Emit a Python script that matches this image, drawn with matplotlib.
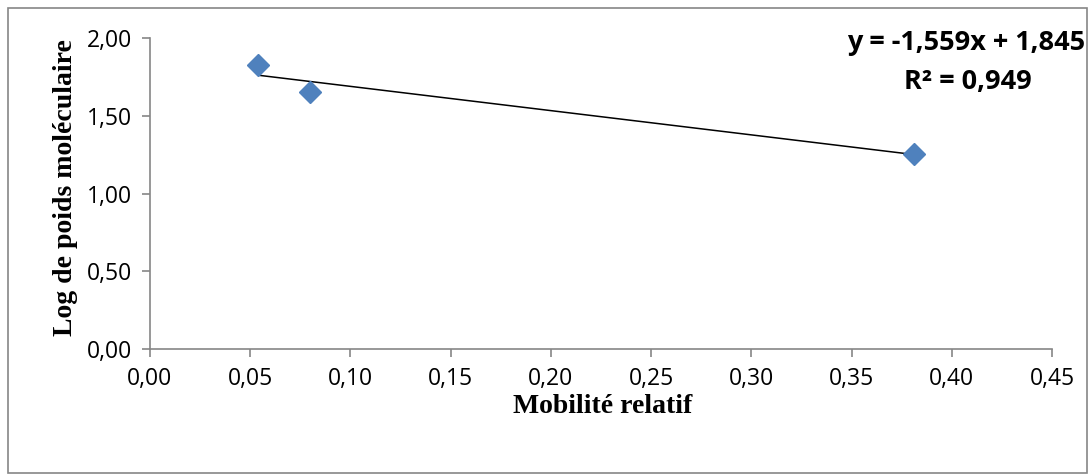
import matplotlib.pyplot as plt
from matplotlib.patches import Rectangle
from matplotlib.ticker import FuncFormatter, MultipleLocator

mobility = [0.054, 0.080, 0.381]
log_mw = [1.826, 1.653, 1.255]
slope = -1.559
intercept = 1.845
r2 = 0.949

AXIS_GRAY = "#868686"
BLUE = "#4F81BD"


def comma(v, _pos=None, nd=2):
    return f"{v:.{nd}f}".replace(".", ",")


fig = plt.figure(figsize=(10.9, 4.75), dpi=100)
fig.patches.append(
    Rectangle((0.007, 0.004), 0.99, 0.98, transform=fig.transFigure,
              fill=False, edgecolor=AXIS_GRAY, linewidth=1.2)
)
ax = fig.add_axes([0.1376, 0.265, 0.8275, 0.655])

x0, x1 = min(mobility), max(mobility)
ax.plot([x0, x1], [slope * x0 + intercept, slope * x1 + intercept],
        color="black", linewidth=1.1, zorder=2)
ax.plot(mobility, log_mw, linestyle="none", marker="D", markersize=11,
        color=BLUE, markeredgecolor=BLUE, zorder=3)

ax.set_xlim(0, 0.45)
ax.set_ylim(0, 2.0)
ax.xaxis.set_major_locator(MultipleLocator(0.05))
ax.yaxis.set_major_locator(MultipleLocator(0.5))
ax.xaxis.set_major_formatter(FuncFormatter(comma))
ax.yaxis.set_major_formatter(FuncFormatter(comma))

for side in ("top", "right"):
    ax.spines[side].set_visible(False)
for side in ("left", "bottom"):
    ax.spines[side].set_color(AXIS_GRAY)
    ax.spines[side].set_linewidth(1.2)
ax.tick_params(direction="out", length=6, width=1.2, color=AXIS_GRAY,
               labelsize=16.5, pad=7)
for lab in ax.get_xticklabels() + ax.get_yticklabels():
    lab.set_family("Open Sans")

ax.set_xlabel("Mobilité relatif", family="Liberation Serif", fontweight="bold",
              fontsize=20)
ax.set_ylabel("Log de poids moléculaire", family="Liberation Serif",
              fontweight="bold", fontsize=20)
ax.xaxis.set_label_coords(0.502, -0.185)
ax.yaxis.set_label_coords(-0.094, 0.518)
ax.xaxis.label.set_va("center")
ax.yaxis.label.set_va("center")

eq = f"y = {comma(slope, nd=3)}x + {comma(intercept, nd=3)}"
fig.text(0.886, 0.91, eq, ha="center", va="center", family="Open Sans",
         fontweight="bold", fontsize=19.5)
fig.text(0.888, 0.828, f"R² = {comma(r2, nd=3)}", ha="center", va="center",
         family="Open Sans", fontweight="bold", fontsize=19.5)

fig.savefig("out.png", dpi=100)
